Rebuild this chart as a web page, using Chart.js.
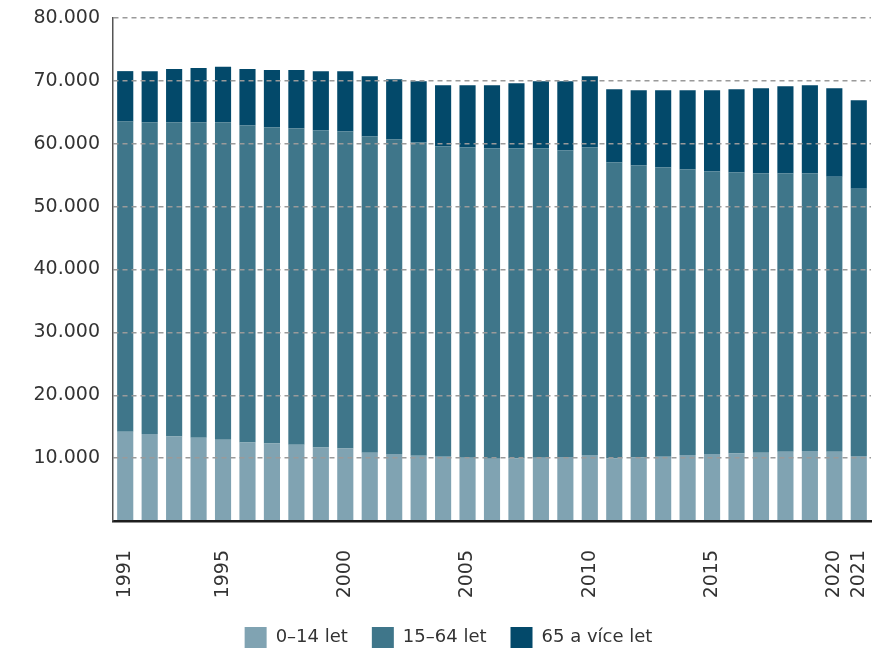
<!DOCTYPE html>
<html>
<head>
<meta charset="utf-8">
<script src="https://cdn.jsdelivr.net/npm/chart.js@4"></script>
<style>
  html, body { margin: 0; padding: 0; background: #ffffff; }
  #wrap { width: 890px; height: 654px; position: relative; }
</style>
</head>
<body>
<div id="wrap"><canvas id="c" width="890" height="654"></canvas></div>
<script>
const years = ['1991','1992','1993','1994','1995','1996','1997','1998','1999','2000',
  '2001','2002','2003','2004','2005','2006','2007','2008','2009','2010',
  '2011','2012','2013','2014','2015','2016','2017','2018','2019','2020','2021'];
const shownYears = ['1991','1995','2000','2005','2010','2015','2020','2021'];
const seriesNames = ['0–14 let', '15–64 let', '65 a více let'];
const age0_14 = [14200,13830,13450,13240,12920,12490,12330,12120,11690,11530,
  10850,10640,10370,10210,10050,9920,9940,10050,10160,10480,
  9940,10100,10210,10480,10640,10740,10850,11010,11120,11010,10320];
const age15_64 = [49360,49570,49950,50160,50480,50430,50270,50320,50430,50430,
  50320,50050,49840,49360,49360,49330,49310,49200,48770,48930,
  47070,46430,46000,45410,44930,44670,44400,44240,44130,43760,42530];
const age65plus = [7990,8150,8470,8630,8840,8950,9110,9270,9430,9590,
  9580,9580,9740,9740,9900,10060,10380,10700,11020,11340,
  11660,11980,12300,12620,12940,13260,13580,13900,14060,14060,14070];
const yTickValues = [0,10000,20000,30000,40000,50000,60000,70000,80000];

const FONT = "'DejaVu Sans', sans-serif";
const fmt = v => String(v).replace(/\B(?=(\d{3})+(?!\d))/g, '.');

const legendShift = {
  id: 'legendShift',
  afterLayout(chart) {
    if (chart.legend) { chart.legend.left += 13; chart.legend.right += 13; }
  }
};

new Chart(document.getElementById('c'), {
  type: 'bar',
  data: {
    labels: years,
    datasets: [
      { label: seriesNames[0], data: age0_14, backgroundColor: '#80a3b2' },
      { label: seriesNames[1], data: age15_64, backgroundColor: '#3f768a' },
      { label: seriesNames[2], data: age65plus, backgroundColor: '#03496a' }
    ]
  },
  plugins: [legendShift],
  options: {
    responsive: false,
    animation: false,
    devicePixelRatio: 1,
    layout: { padding: { top: 18, right: 19, left: 0, bottom: -4 } },
    datasets: { bar: { categoryPercentage: 1, barPercentage: 0.66, borderWidth: 0 } },
    plugins: {
      tooltip: { enabled: false },
      legend: {
        position: 'bottom',
        labels: {
          boxWidth: 22, boxHeight: 21, padding: 24,
          color: '#333333',
          font: { family: FONT, size: 18 }
        }
      }
    },
    scales: {
      x: {
        stacked: true,
        grid: { display: false, drawTicks: false },
        border: { display: true, color: '#1e1e1e', width: 2.5, z: 2 },
        ticks: {
          autoSkip: false, minRotation: 90, maxRotation: 90, padding: 29,
          color: '#333333', font: { family: FONT, size: 19 },
          callback: (v, i) => shownYears.includes(years[i]) ? years[i] : ''
        },
        afterFit: s => { s.height = 82; s.paddingLeft = 0; s.paddingRight = 0; }
      },
      y: {
        stacked: true,
        min: 0, max: 80000,
        afterBuildTicks: s => { s.ticks = yTickValues.map(v => ({ value: v })); },
        grid: { color: '#9a9a9a', lineWidth: 1.5, drawTicks: false, z: 1 },
        border: { display: true, color: '#555555', width: 1.5, dash: [5, 4], z: 2 },
        ticks: {
          padding: 13, color: '#333333', font: { family: FONT, size: 19 },
          callback: v => v === 0 ? '' : fmt(v)
        },
        afterFit: s => { s.width = 113; s.paddingTop = 0; s.paddingBottom = 0; }
      }
    }
  }
});
</script>
</body>
</html>
